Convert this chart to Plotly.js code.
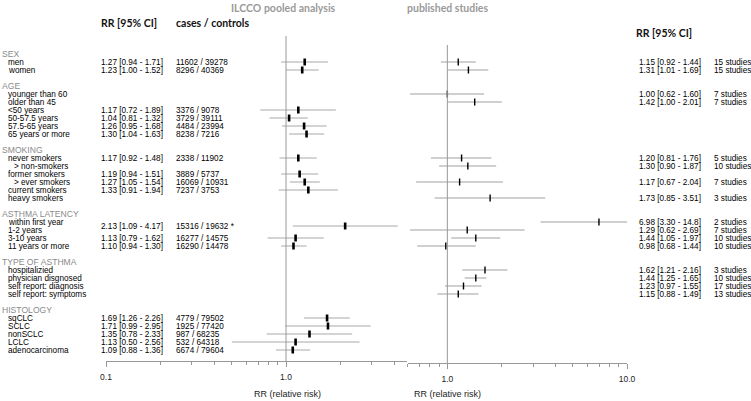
<!DOCTYPE html>
<html><head><meta charset="utf-8">
<script src="https://cdn.plot.ly/plotly-3.0.1.min.js"></script>
<style>html,body{margin:0;padding:0;background:#fff}</style>
</head><body><div id="chart" style="width:751px;height:401px"></div>
<script>
// ---------- data ----------
const sections = ["SEX", "AGE", "SMOKING", "ASTHMA LATENCY", "TYPE OF ASTHMA", "HISTOLOGY"];
const subgroups = [
  ["men", "women"],
  ["younger than 60", "older than 45", "<50 years", "50-57.5 years", "57.5-65 years", "65 years or more"],
  ["never smokers", "> non-smokers", "former smokers", "> ever smokers", "current smokers", "heavy smokers"],
  ["within first year", "1-2 years", "3-10 years", "11 years or more"],
  ["hospitalizied", "physician disgnosed", "self report: diagnosis", "self report: symptoms"],
  ["sqCLC", "SCLC", "nonSCLC", "LCLC", "adenocarcinoma"]
];

// ILCCO pooled analysis
const ilccoGroup = ["men", "women", "<50 years", "50-57.5 years", "57.5-65 years", "65 years or more",
  "never smokers", "former smokers", "> ever smokers", "current smokers",
  "within first year+1-2 years", "3-10 years", "11 years or more",
  "sqCLC", "SCLC", "nonSCLC", "LCLC", "adenocarcinoma"];
const ilccoRR = [1.27, 1.23, 1.17, 1.04, 1.26, 1.30, 1.17, 1.19, 1.27, 1.33, 2.13, 1.13, 1.10, 1.69, 1.71, 1.35, 1.13, 1.09];
const ilccoLo = [0.94, 1.00, 0.72, 0.81, 0.95, 1.04, 0.92, 0.94, 1.05, 0.91, 1.09, 0.79, 0.94, 1.26, 0.99, 0.78, 0.50, 0.88];
const ilccoHi = [1.71, 1.52, 1.89, 1.32, 1.68, 1.63, 1.48, 1.51, 1.54, 1.94, 4.17, 1.62, 1.30, 2.26, 2.95, 2.33, 2.56, 1.36];
const ilccoCases = [11602, 8296, 3376, 3729, 4484, 8238, 2338, 3889, 16069, 7237, 15316, 16277, 16290, 4779, 1925, 987, 532, 6674];
const ilccoControls = [39278, 40369, 9078, 39111, 23994, 7216, 11902, 5737, 10931, 3753, 19632, 14575, 14478, 79502, 77420, 68235, 64318, 79604];
const ilccoNote = ["", "", "", "", "", "", "", "", "", "", " *", "", "", "", "", "", "", ""];

// published studies
const pubGroup = ["men", "women", "younger than 60", "older than 45", "never smokers", "> non-smokers",
  "> ever smokers", "heavy smokers", "within first year", "1-2 years", "3-10 years", "11 years or more",
  "hospitalizied", "physician disgnosed", "self report: diagnosis", "self report: symptoms"];
const pubRR = [1.15, 1.31, 1.00, 1.42, 1.20, 1.30, 1.17, 1.73, 6.98, 1.29, 1.44, 0.98, 1.62, 1.44, 1.23, 1.15];
const pubLo = [0.92, 1.01, 0.62, 1.00, 0.81, 0.90, 0.67, 0.85, 3.30, 0.62, 1.05, 0.68, 1.21, 1.25, 0.97, 0.88];
const pubHi = [1.44, 1.69, 1.60, 2.01, 1.76, 1.87, 2.04, 3.51, 14.8, 2.69, 1.97, 1.44, 2.16, 1.65, 1.55, 1.49];
const pubStudies = [15, 15, 7, 7, 5, 10, 7, 3, 2, 7, 10, 10, 3, 10, 17, 13];

// axis ticks
const leftMajor = [0.1, 1];
const leftMajorText = ["0.1", "1.0"];
const leftMinor = [0.2, 0.3, 0.4, 0.5, 0.6, 0.7, 0.8, 0.9, 2, 3, 4];
const rightMajor = [1, 10];
const rightMajorText = ["1.0", "10.0"];
const rightMinor = [0.6, 0.7, 0.8, 0.9, 2, 3, 4, 5, 6, 7, 8, 9];

// ---------- layout helpers ----------
const W = 751, H = 401;
const px = v => v / W;
const py = v => 1 - v / H;
const FONT = "Liberation Sans, Arial, sans-serif";

// row positions (row units)
const rowY = {};
const headerY = [];
let k = 0;
sections.forEach((s, i) => {
  if (i > 0) k++;
  headerY.push(k); k++;
  subgroups[i].forEach(g => { rowY[g] = k; k++; });
});
const yOf = g => { const parts = g.split("+"); return parts.reduce((a, p) => a + rowY[p], 0) / parts.length; };

const f2 = v => v >= 10 ? v.toFixed(1) : v.toFixed(2);
const ciText = (r, l, h) => `${f2(r)} [${f2(l)} - ${f2(h)}]`;

const ann = [];
const txt = (x, y, text, opts = {}) => ann.push(Object.assign({
  xref: "paper", yref: "y", x: px(x), y: y, text: text, showarrow: false,
  xanchor: "left", yanchor: "middle", borderpad: 0,
  font: { family: FONT, size: 8.2, color: "#000" }
}, opts));

// section headers and labels
sections.forEach((s, i) => {
  txt(1, headerY[i], s, { font: { family: FONT, size: 8.6, color: "#8a8a8a" } });
  subgroups[i].forEach(g => txt(g.startsWith(">") ? 13 : 7, rowY[g], g));
});
// ILCCO text columns
ilccoGroup.forEach((g, i) => {
  txt(100, yOf(g), ciText(ilccoRR[i], ilccoLo[i], ilccoHi[i]));
  txt(175, yOf(g), `${ilccoCases[i]} / ${ilccoControls[i]}${ilccoNote[i]}`);
});
// published text columns
pubGroup.forEach((g, i) => {
  txt(638, yOf(g), ciText(pubRR[i], pubLo[i], pubHi[i]));
  txt(713, yOf(g), `${pubStudies[i]} studies`);
});

// headers / titles (paper coords)
const ptxt = (x, y, text, font, xanchor = "left") => ann.push({
  xref: "paper", yref: "paper", x: px(x), y: py(y), text: text, showarrow: false,
  xanchor: xanchor, yanchor: "middle", borderpad: 0, font: font
});
const boldHead = { family: "Lato, Open Sans, sans-serif", size: 10.5, color: "#111", weight: "bold" };
const grayHead = { family: "Lato, Open Sans, sans-serif", size: 10.5, color: "#9a9a9a", weight: "bold" };
ptxt(283, 8, "<b>ILCCO pooled analysis</b>", grayHead, "center");
ptxt(447, 8, "<b>published studies</b>", grayHead, "center");
ptxt(100, 23, "<b>RR [95% CI]</b>", boldHead);
ptxt(175, 23, "<b>cases / controls</b>", boldHead);
ptxt(635, 33, "<b>RR [95% CI]</b>", boldHead);
ptxt(287, 394, "RR (relative risk)", { family: FONT, size: 9, color: "#222" }, "center");
ptxt(447, 394, "RR (relative risk)", { family: FONT, size: 9, color: "#222" }, "center");

// ---------- traces ----------
const ilccoTrace = {
  type: "scatter", mode: "markers", xaxis: "x", yaxis: "y",
  x: ilccoRR, y: ilccoGroup.map(yOf),
  marker: { symbol: "line-ns", size: 5, color: "#000", line: { color: "#000", width: 2.6 } },
  error_x: { type: "data", symmetric: false,
    array: ilccoRR.map((r, i) => ilccoHi[i] - r), arrayminus: ilccoRR.map((r, i) => r - ilccoLo[i]),
    color: "#a8a8a8", thickness: 1, width: 0 },
  hoverinfo: "skip", showlegend: false
};
const pubTrace = {
  type: "scatter", mode: "markers", xaxis: "x2", yaxis: "y",
  x: pubRR, y: pubGroup.map(yOf),
  marker: { symbol: "line-ns", size: 5, color: "#000", line: { color: "#000", width: 1.4 } },
  error_x: { type: "data", symmetric: false,
    array: pubRR.map((r, i) => pubHi[i] - r), arrayminus: pubRR.map((r, i) => r - pubLo[i]),
    color: "#a0a0a0", thickness: 1, width: 0 },
  hoverinfo: "skip", showlegend: false
};

const axisCommon = {
  type: "log", showline: true, linecolor: "#999", linewidth: 1, ticks: "outside", ticklen: 5,
  tickcolor: "#999", tickwidth: 1, showgrid: false, zeroline: false, fixedrange: true,
  tickfont: { family: FONT, size: 8.5, color: "#222" }, ticklabelstandoff: 3, anchor: "free"
};

const layout = {
  width: W, height: H, margin: { l: 0, r: 0, t: 0, b: 0 },
  paper_bgcolor: "#fff", plot_bgcolor: "#fff", showlegend: false,
  xaxis: Object.assign({}, axisCommon, {
    domain: [px(106), px(406.7)], range: [-1, Math.log10(4.68)], position: py(361),
    tickmode: "array", tickvals: leftMajor, ticktext: leftMajorText,
    minor: { tickmode: "array", tickvals: leftMinor, ticks: "outside", ticklen: 2.5, tickcolor: "#999", showgrid: false }
  }),
  xaxis2: Object.assign({}, axisCommon, {
    domain: [px(407.5), px(627)], range: [Math.log10(0.6), 1], position: py(363),
    tickmode: "array", tickvals: rightMajor, ticktext: rightMajorText,
    minor: { tickmode: "array", tickvals: rightMinor, ticks: "outside", ticklen: 2.5, tickcolor: "#999", showgrid: false }
  }),
  yaxis: { domain: [0, 1], range: [(H - 54) / 8, -54 / 8], visible: false, fixedrange: true, anchor: "free", position: 0 },
  shapes: [
    { type: "line", xref: "x", yref: "paper", x0: 1, x1: 1, y0: py(361), y1: py(36), line: { color: "#999", width: 1 } },
    { type: "line", xref: "x2", yref: "paper", x0: 1, x1: 1, y0: py(363), y1: py(45), line: { color: "#999", width: 1 } }
  ],
  annotations: ann
};

Plotly.newPlot("chart", [ilccoTrace, pubTrace], layout, { displayModeBar: false, staticPlot: true });
</script></body></html>
